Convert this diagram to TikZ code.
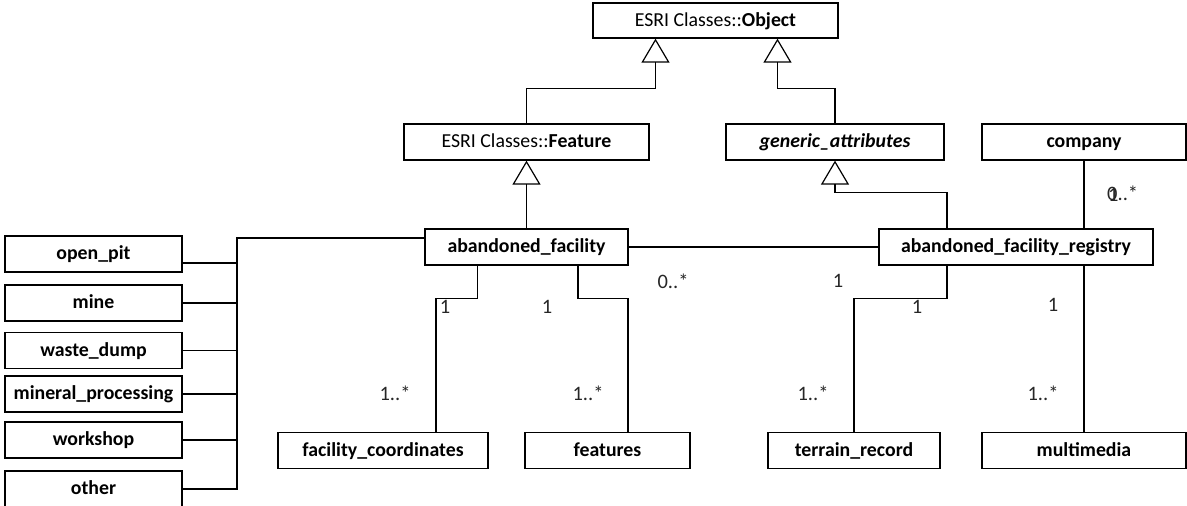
\documentclass[tikz,border=0pt]{standalone}
\usepackage{fontspec}
\setmainfont{Carlito}
\usetikzlibrary{arrows.meta}
\begin{document}
\begin{tikzpicture}[x=1pt,y=-1pt,
  cls/.style={draw, line width=1.3pt, minimum height=36pt, inner sep=0pt, fill=white,
    text height=14.5pt, text depth=3.5pt,
    font=\fontsize{19.8}{23}\selectfont\bfseries},
  conn/.style={line width=1.2pt},
  inh/.style={line width=1.2pt, -{Triangle[open, width=28pt, length=24pt, line width=1.2pt]}},
  mult/.style={font=\fontsize{20.5}{24}\selectfont, inner sep=0pt, text=black!85}]
\useasboundingbox (0,0) rectangle (1187,506);
% classes
\node[cls, minimum width=245pt, minimum height=35pt, font=\fontsize{19.8}{23}\selectfont] (obj) at (715.5,20.5) {ESRI Classes::\textbf{Object}};
\node[cls, minimum width=245pt, font=\fontsize{19.8}{23}\selectfont] (feat) at (526.5,142) {ESRI Classes::\textbf{Feature}};
\node[cls, minimum width=218pt, font=\fontsize{19.8}{23}\selectfont\bfseries\itshape] (gen) at (835,142) {generic\_attributes};
\node[cls, minimum width=204pt] (comp) at (1084,142) {company};
\node[cls, minimum width=203pt] (af) at (526.5,247) {abandoned\_facility};
\node[cls, minimum width=274pt] (reg) at (1016,247) {abandoned\_facility\_registry};
\node[cls, minimum width=210pt] (fc) at (383,450.5) {facility\_coordinates};
\node[cls, minimum width=165pt] (feats) at (607.5,450.5) {features};
\node[cls, minimum width=172pt] (tr) at (854,450.5) {terrain\_record};
\node[cls, minimum width=204pt] (mm) at (1084,450.5) {multimedia};
\node[cls, minimum width=177pt] (op) at (93.5,254) {open\_pit};
\node[cls, minimum width=177pt] (mine) at (93.5,303) {mine};
\node[cls, minimum width=177pt] (wd) at (93.5,350.5) {waste\_dump};
\node[cls, minimum width=177pt] (mp) at (93.5,394) {mineral\_processing};
\node[cls, minimum width=177pt] (ws) at (93.5,440) {workshop};
\node[cls, minimum width=177pt] (oth) at (93.5,489) {other};
% generalisations
\draw[inh] (feat.north) -- ++(0,-35) -| ([xshift=-60pt]obj.south);
\draw[inh] (gen.north) -- ++(0,-35) -| ([xshift=62pt]obj.south);
\draw[inh] (af.north) -- (feat.south);
\draw[inh] ([xshift=-69pt]reg.north) -- ++(0,-36) -| (gen.south);
% left bus
\coordinate (bx) at (237,0);
\draw[conn] ([yshift=9pt]af.west) -| (bx |- oth.east) -- (oth.east);
\draw[conn] ([yshift=-9pt]op.east) -- ++(55,0);
\draw[conn] (mine.east) -- ++(55,0);
\draw[conn] (wd.east) -- ++(55,0);
\draw[conn] (mp.east) -- ++(55,0);
\draw[conn] (ws.east) -- ++(55,0);
% associations
\draw[conn] (af.east) -- (reg.west);
\draw[conn] (comp.south) -- (comp.south |- reg.north);
\draw[conn] ([xshift=-49pt]af.south) -- ++(0,33) -| ([xshift=53pt]fc.north);
\draw[conn] ([xshift=51.5pt]af.south) -- ++(0,33) -| ([xshift=20.5pt]feats.north);
\draw[conn] ([xshift=-69pt]reg.south) -- ++(0,33) -| (tr.north);
\draw[conn] (mm.north |- reg.south) -- (mm.north);
% multiplicities
\node[mult] (m1) at (673,281) {0..*};
\node[mult] (m2) at (838,281) {1};
\node[mult, anchor=west] (m3) at (1107,193) {0..*};
\node[mult, anchor=west] (m4) at (1108,195) {1};
\node[mult] (m5) at (445,307) {1};
\node[mult] (m6) at (395,393) {1..*};
\node[mult] (m7) at (547,307) {1};
\node[mult] (m8) at (588,393) {1..*};
\node[mult] (m9) at (917,307) {1};
\node[mult] (m10) at (813,393) {1..*};
\node[mult] (m11) at (1053,305) {1};
\node[mult] (m12) at (1043,393) {1..*};
\end{tikzpicture}
\end{document}
